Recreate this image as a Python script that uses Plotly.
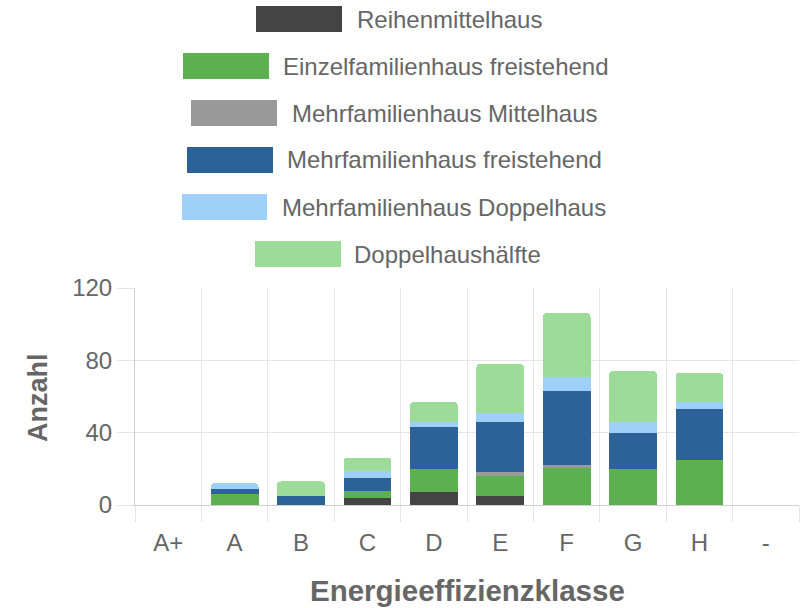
import plotly.graph_objects as go

categories = ["A+", "A", "B", "C", "D", "E", "F", "G", "H", "-"]
reihenmittelhaus = [0, 0, 0, 4, 7, 5, 0, 0, 0, 0]
einzelfamilienhaus_freistehend = [0, 6, 0, 4, 13, 11, 21, 20, 25, 0]
mehrfamilienhaus_mittelhaus = [0, 0, 0, 0, 0, 2, 1, 0, 0, 0]
mehrfamilienhaus_freistehend = [0, 3, 5, 7, 23, 28, 41, 20, 28, 0]
mehrfamilienhaus_doppelhaus = [0, 3, 0, 4, 3, 5, 8, 6, 4, 0]
doppelhaushaelfte = [0, 0, 8, 7, 11, 27, 35, 28, 16, 0]

series_names = ["Reihenmittelhaus", "Einzelfamilienhaus freistehend", "Mehrfamilienhaus Mittelhaus",
                "Mehrfamilienhaus freistehend", "Mehrfamilienhaus Doppelhaus", "Doppelhaushälfte"]
series_values = [reihenmittelhaus, einzelfamilienhaus_freistehend, mehrfamilienhaus_mittelhaus,
                 mehrfamilienhaus_freistehend, mehrfamilienhaus_doppelhaus, doppelhaushaelfte]
colors = ["#444444", "#5cb050", "#999999", "#2c6298", "#9ed0f9", "#9ddb98"]

W, H = 807, 608
L, R, T, B = 135, 8, 288, 103
pw, ph = W - L - R, H - T - B

def px2x(px):
    return (px - L) / pw

def py2y(py):
    return (H - B - py) / ph

FONT = "Liberation Sans, Arial, Helvetica, sans-serif"
TXT = "#666666"

fig = go.Figure()
for name, vals, col in zip(series_names, series_values, colors):
    fig.add_trace(go.Bar(x=categories, y=vals, name=name, marker=dict(color=col, line=dict(width=0)),
                         showlegend=False))

# manual legend (large colour boxes, centred rows)
legend_rows = [
    (256, 342, 356), (183, 269, 282), (191, 277, 291),
    (187, 273, 286), (182, 267, 281), (255, 341, 353),
]
row_centers = [19, 66, 113, 160, 207, 254]
shapes = []
annotations = []
for (bx0, bx1, tx), cy, name, col in zip(legend_rows, row_centers, series_names, colors):
    shapes.append(dict(type="rect", xref="paper", yref="paper",
                       x0=px2x(bx0), x1=px2x(bx1), y0=py2y(cy + 13), y1=py2y(cy - 13),
                       fillcolor=col, line=dict(width=0)))
    annotations.append(dict(xref="paper", yref="paper", x=px2x(tx), y=py2y(cy), text=name,
                            showarrow=False, xanchor="left", yanchor="middle", borderpad=0,
                            font=dict(family=FONT, size=24, color=TXT)))

annotations.append(dict(xref="paper", yref="paper", x=px2x(467), y=py2y(590), text="<b>Energieeffizienzklasse</b>",
                        showarrow=False, xanchor="center", yanchor="middle", borderpad=0,
                        font=dict(family=FONT, size=29.5, color=TXT)))
annotations.append(dict(xref="paper", yref="paper", x=px2x(38), y=py2y(397), text="<b>Anzahl</b>",
                        showarrow=False, xanchor="center", yanchor="middle", textangle=-90,
                        font=dict(family=FONT, size=27, color=TXT)))

fig.update_layout(
    width=W, height=H,
    margin=dict(l=L, r=R, t=T, b=B),
    barmode="stack", bargap=0.28, barcornerradius=4,
    plot_bgcolor="white", paper_bgcolor="white",
    shapes=shapes, annotations=annotations,
    xaxis=dict(type="category", tickson="boundaries", showgrid=True, gridcolor="#e5e5e5", gridwidth=1,
               ticks="outside", ticklen=16, tickcolor="#e5e5e5", tickwidth=1, ticklabelstandoff=16,
               showline=True, linecolor="#d0d0d0", linewidth=1, mirror=False,
               tickfont=dict(family=FONT, size=24, color=TXT), zeroline=False),
    yaxis=dict(range=[0, 120], tickvals=[0, 40, 80, 120], showgrid=True, gridcolor="#e5e5e5", gridwidth=1,
               ticks="outside", ticklen=17, tickcolor="#e5e5e5", tickwidth=1,
               showline=True, linecolor="#d0d0d0", linewidth=1, zeroline=False,
               tickfont=dict(family=FONT, size=24, color=TXT)),
    font=dict(family=FONT, color=TXT),
)

fig.write_html("out.html", config={"displayModeBar": False},
               post_script="document.body.style.margin='0';document.body.style.overflow='hidden';")
